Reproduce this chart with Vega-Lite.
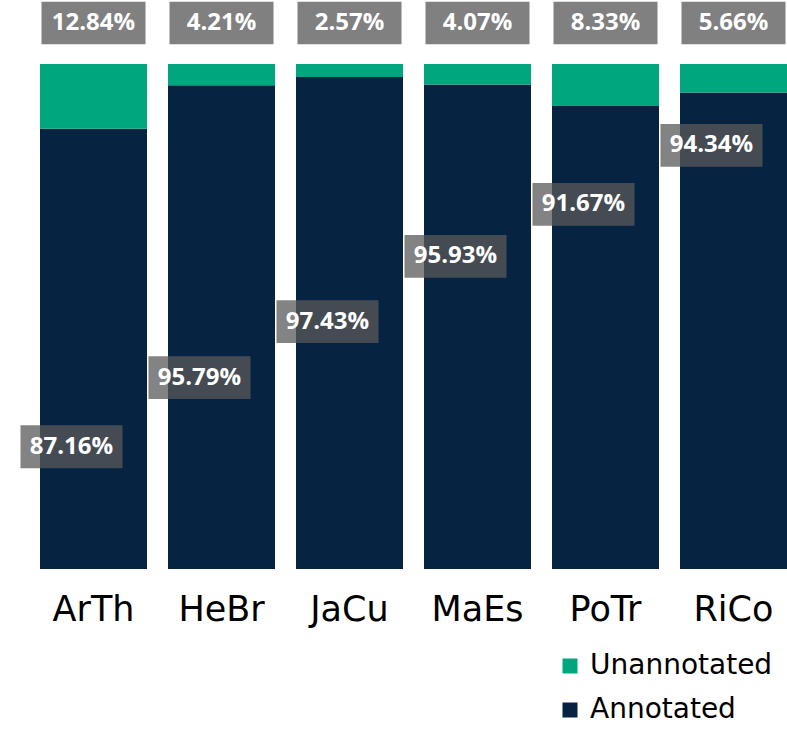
{
  "$schema": "https://vega.github.io/schema/vega-lite/v6.json",
  "width": 747,
  "height": 505,
  "autosize": "none",
  "padding": {"left": 40, "top": 64, "right": 0, "bottom": 162},
  "background": "white",
  "config": {"view": {"stroke": null}},
  "data": {
    "values": [
      {"corpus": "ArTh", "type": "Annotated", "share": 0.8716, "label_at": 0.242},
      {"corpus": "ArTh", "type": "Unannotated", "share": 0.1284},
      {"corpus": "HeBr", "type": "Annotated", "share": 0.9579, "label_at": 0.379},
      {"corpus": "HeBr", "type": "Unannotated", "share": 0.0421},
      {"corpus": "JaCu", "type": "Annotated", "share": 0.9743, "label_at": 0.490},
      {"corpus": "JaCu", "type": "Unannotated", "share": 0.0257},
      {"corpus": "MaEs", "type": "Annotated", "share": 0.9593, "label_at": 0.619},
      {"corpus": "MaEs", "type": "Unannotated", "share": 0.0407},
      {"corpus": "PoTr", "type": "Annotated", "share": 0.9167, "label_at": 0.722},
      {"corpus": "PoTr", "type": "Unannotated", "share": 0.0833},
      {"corpus": "RiCo", "type": "Annotated", "share": 0.9434, "label_at": 0.839},
      {"corpus": "RiCo", "type": "Unannotated", "share": 0.0566}
    ]
  },
  "encoding": {
    "x": {
      "field": "corpus",
      "type": "nominal",
      "sort": null,
      "scale": {"paddingInner": 0.164, "paddingOuter": 0},
      "axis": {
        "title": null,
        "domain": false,
        "ticks": false,
        "labelAngle": 0,
        "labelFont": "DejaVu Sans",
        "labelFontSize": 35,
        "labelColor": "#000000",
        "labelPadding": 23
      }
    }
  },
  "layer": [
    {
      "mark": {"type": "bar"},
      "encoding": {
        "y": {
          "field": "share",
          "type": "quantitative",
          "stack": "zero",
          "scale": {"domain": [0, 1], "nice": false},
          "axis": null
        },
        "order": {"field": "type", "sort": "ascending"},
        "color": {
          "field": "type",
          "type": "nominal",
          "scale": {"domain": ["Unannotated", "Annotated"], "range": ["#00A67D", "#072342"]},
          "legend": {
            "title": null,
            "orient": "none",
            "legendX": 516,
            "legendY": 588,
            "padding": 0,
            "symbolType": "square",
            "symbolSize": 225,
            "symbolOpacity": 1,
            "symbolStrokeWidth": 0,
            "labelFont": "DejaVu Sans",
            "labelFontSize": 28,
            "labelColor": "#000000",
            "labelOffset": 6,
            "rowPadding": 16,
            "labelLimit": 400
          }
        }
      }
    },
    {
      "transform": [{"filter": "datum.type === 'Unannotated'"}],
      "mark": {"type": "point", "shape": "M-1,-0.41H1V0.41H-1Z", "size": 10816, "filled": true, "fill": "#808080", "opacity": 1, "strokeWidth": 0, "yOffset": -41},
      "encoding": {"y": {"datum": 1, "type": "quantitative"}}
    },
    {
      "transform": [{"filter": "datum.type === 'Unannotated'"}],
      "mark": {"type": "text", "font": "Open Sans", "fontWeight": "bold", "fontSize": 24, "color": "#ffffff", "baseline": "middle", "align": "center", "yOffset": -41},
      "encoding": {
        "y": {"datum": 1, "type": "quantitative"},
        "text": {"field": "share", "type": "quantitative", "format": ".2%"}
      }
    },
    {
      "transform": [{"filter": "datum.type === 'Annotated'"}],
      "mark": {"type": "point", "shape": "M-1,-0.42H1V0.42H-1Z", "size": 10404, "filled": true, "fill": "#595959", "opacity": 0.75, "strokeWidth": 0, "xOffset": -22},
      "encoding": {"y": {"field": "label_at", "type": "quantitative"}}
    },
    {
      "transform": [{"filter": "datum.type === 'Annotated'"}],
      "mark": {"type": "text", "font": "Open Sans", "fontWeight": "bold", "fontSize": 24, "color": "#ffffff", "baseline": "middle", "align": "center", "xOffset": -22},
      "encoding": {
        "y": {"field": "label_at", "type": "quantitative"},
        "text": {"field": "share", "type": "quantitative", "format": ".2%"}
      }
    }
  ]
}
